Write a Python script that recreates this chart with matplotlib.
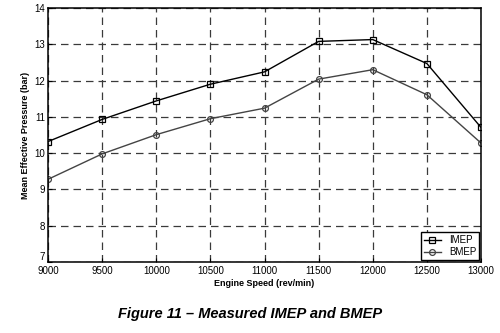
import matplotlib
matplotlib.use("Agg")
import matplotlib.pyplot as plt

plt.rcParams['font.family'] = ['Liberation Sans', 'DejaVu Sans']

speed = [9000, 9500, 10000, 10500, 11000, 11500, 12000, 12500, 13000]
imep = [10.32, 10.93, 11.44, 11.90, 12.24, 13.08, 13.13, 12.47, 10.71]
bmep = [9.28, 9.98, 10.51, 10.95, 11.24, 12.04, 12.30, 11.61, 10.28]

fig = plt.figure(figsize=(5, 3.33), dpi=100)
ax = fig.add_axes([0.096, 0.213, 0.866, 0.763])

ax.plot(speed, imep, color="black", lw=1.0, marker="s", ms=4,
        mfc="none", mec="black", mew=0.9, label="IMEP")
ax.plot(speed, bmep, color="#444444", lw=1.0, marker="o", ms=4.2,
        mfc="none", mec="#444444", mew=0.9, label="BMEP")

ax.set_xlim(9000, 13000)
ax.set_ylim(7, 14)
ax.set_xticks(speed)
ax.set_yticks(range(7, 15))
ax.tick_params(labelsize=7, direction="in", length=3)
ax.tick_params(axis="x", pad=3)
ax.tick_params(axis="y", pad=2)
# lift the bottom y label a touch so it clears the first x label
ax.get_yticklabels()[0].set_verticalalignment("bottom")
ax.grid(True, color="#3a3a3a", linestyle=(0, (6, 4)), lw=0.9)
for s in ax.spines.values():
    s.set_linewidth(1.1)

ax.set_xlabel("Engine Speed (rev/min)", fontsize=6.5, fontweight="bold", labelpad=2)
ax.set_ylabel("Mean Effective Pressure (bar)", fontsize=6.5, fontweight="bold", labelpad=3)

leg = ax.legend(loc="lower right", fontsize=7, fancybox=False, framealpha=1,
                edgecolor="black", borderpad=0.3, labelspacing=0.2,
                handlelength=1.8, borderaxespad=0.2)
leg.get_frame().set_linewidth(1.0)

fig.text(0.5, 0.045, "Figure 11 \u2013 Measured IMEP and BMEP", ha="center",
         fontsize=10.5, fontweight="bold", fontstyle="italic")

fig.savefig("out.png", dpi=100)
